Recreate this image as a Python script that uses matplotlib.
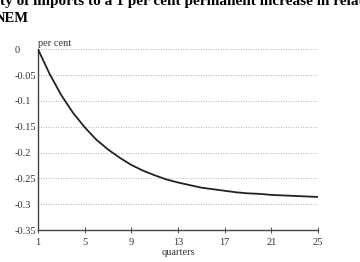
import matplotlib
matplotlib.use("Agg")
import matplotlib.pyplot as plt

quarters = list(range(1, 26))
response = [0.0, -0.048, -0.089, -0.123, -0.151, -0.175, -0.194, -0.210, -0.224,
            -0.235, -0.244, -0.252, -0.258, -0.263, -0.268, -0.271, -0.274,
            -0.277, -0.279, -0.280, -0.282, -0.283, -0.284, -0.285, -0.286]
xticks = [1, 5, 9, 13, 17, 21, 25]
yticks = [0, -0.05, -0.1, -0.15, -0.2, -0.25, -0.3, -0.35]
ytick_labels = ["0", "-0.05", "-0.1", "-0.15", "-0.2", "-0.25", "-0.3", "-0.35"]

plt.rcParams['font.family'] = ['Liberation Serif', 'DejaVu Serif']

fig = plt.figure(figsize=(3.6, 2.62), dpi=100)
ax = fig.add_axes([0.1056, 0.1221, 0.7778, 0.6897])

for y in yticks[:-1]:
    ax.axhline(y, color='#999999', linestyle=(0, (1, 2)), linewidth=0.6, zorder=1)

ax.plot(quarters, response, color='#222222', linewidth=1.3, zorder=3)

ax.set_xlim(1, 25)
ax.set_ylim(-0.35, 0)
ax.set_xticks(xticks)
ax.set_yticks(yticks)
ax.set_yticklabels(ytick_labels)
ax.tick_params(axis='both', labelsize=7.5, colors='#333333', length=3, width=0.6)
ax.tick_params(axis='x', direction='inout', length=4)
ax.tick_params(axis='y', length=0, pad=16.5)
for lbl in ax.get_yticklabels():
    lbl.set_horizontalalignment('left')
for s in ['top', 'right']:
    ax.spines[s].set_visible(False)
for s in ['left', 'bottom']:
    ax.spines[s].set_color('#444444')
    ax.spines[s].set_linewidth(1.0)

ax.set_xlabel('quarters', fontsize=7.5, color='#333333', labelpad=1)
ax.text(0.0, 1.01, 'per cent', transform=ax.transAxes, fontsize=7.5,
        color='#333333', ha='left', va='bottom')

fig.text(0.0, 1 - 5 / 262, 'ty of imports to a 1 per cent permanent increase in relative prices',
         fontsize=11, fontweight='bold', ha='left', va='baseline')
fig.text(-5 / 360, 1 - 22 / 262, 'NEM', fontsize=10.5, fontweight='bold',
         ha='left', va='baseline')

fig.savefig('out.png', dpi=100)
